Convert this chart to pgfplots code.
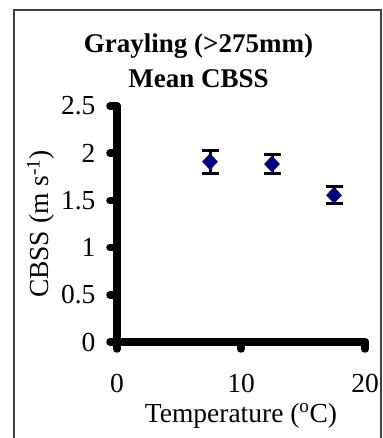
\documentclass[border=0pt]{standalone}
\usepackage{fontspec}
\setmainfont{Liberation Serif}
\usepackage{pgfplots}
\pgfplotsset{compat=1.18}
\pgfplotstableread{
x y e
7.5 1.91 0.12
12.5 1.885 0.105
17.5 1.555 0.087
}\cbss
\definecolor{navy}{RGB}{0,0,128}
\newcommand{\cfont}{\fontsize{27}{32}\selectfont}
\newcommand{\lfont}{\fontsize{27.5}{32}\selectfont}
\begin{document}
\begin{tikzpicture}[x=1pt,y=1pt]
\useasboundingbox (0,0) rectangle (382,438);
\draw[line width=1.5pt, color=black!75] (14,-10) -- (14,428) -- (381,428) -- (381,-10);
\node[anchor=base, font=\cfont\bfseries, inner sep=0pt] at (198.5,385) {Grayling (>275mm)};
\node[anchor=base, font=\cfont\bfseries, inner sep=0pt] at (198.5,350) {Mean CBSS};
\begin{axis}[
  at={(117pt,96pt)}, anchor=south west,
  scale only axis, width=248pt, height=236pt,
  xmin=0, xmax=20, ymin=0, ymax=2.5,
  axis lines=left,
  axis line style={-, line width=8pt, line cap=round, black},
  tick style={line width=7.5pt, line cap=round, black},
  tick align=outside, major tick length=7pt,
  xtick={0,10,20}, ytick={0,0.5,1,1.5,2,2.5},
  /pgf/number format/assume math mode=true,
  tick label style={font=\lfont},
  yticklabel style={xshift=-11pt},
  xticklabel style={yshift=-22pt},
  label style={font=\lfont},
  xlabel={Temperature (\textsuperscript{o}C)},
  ylabel={CBSS (m s\textsuperscript{-1})},
  xlabel style={at={(axis description cs:0.5,0)}, anchor=base, yshift=-80pt},
  ylabel style={at={(axis description cs:-0.238,0.5)}, anchor=south},
  clip=false,
]
\addplot[forget plot, draw=none, mark=none,
  error bars/.cd, y dir=both, y explicit,
  error bar style={draw=black, line width=3pt},
  error mark=-,
  error mark options={rotate=90, draw=black, line width=3pt, mark size=8.5pt}]
  table[x=x, y=y, y error=e] {\cbss};
\addplot[only marks, mark=diamond*, mark size=8pt, mark options={fill=navy, draw=navy, xscale=1.25}]
  table[x=x, y=y] {\cbss};
\end{axis}
\end{tikzpicture}
\end{document}
